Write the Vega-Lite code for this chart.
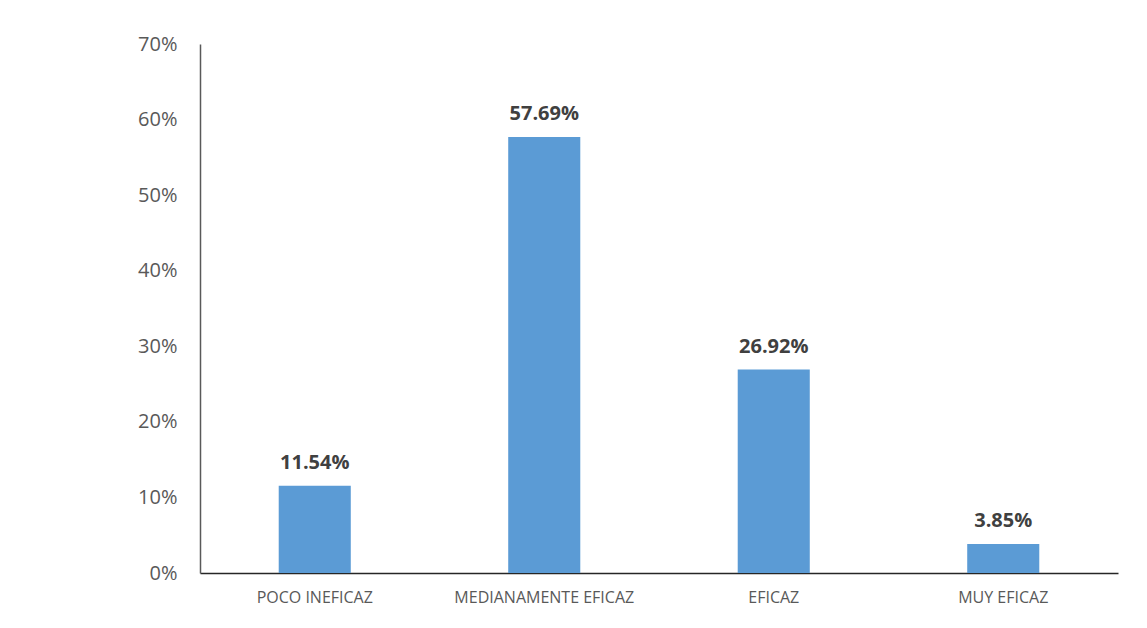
{
  "$schema": "https://vega.github.io/schema/vega-lite/v6.json",
  "autosize": "none",
  "width": 918,
  "height": 529,
  "padding": {"left": 200, "top": 44, "right": 29, "bottom": 55},
  "background": "white",
  "config": {"view": {"stroke": null}, "font": "Open Sans"},
  "data": {"values": [
    {"categoria": "POCO INEFICAZ", "porcentaje": 0.1154},
    {"categoria": "MEDIANAMENTE EFICAZ", "porcentaje": 0.5769},
    {"categoria": "EFICAZ", "porcentaje": 0.2692},
    {"categoria": "MUY EFICAZ", "porcentaje": 0.0385}
  ]},
  "encoding": {
    "x": {"field": "categoria", "type": "nominal", "sort": null,
      "scale": {"paddingInner": 0.686, "paddingOuter": 0.343},
      "axis": {"title": null, "labelAngle": 0, "ticks": false, "domainColor": "#262626", "domainWidth": 1.5,
        "labelLimit": 400, "labelColor": "#595959", "labelFontSize": 16, "labelPadding": 16, "labelFont": "Open Sans"}},
    "y": {"field": "porcentaje", "type": "quantitative",
      "scale": {"domain": [0, 0.7]},
      "axis": {"title": null, "format": ".0%", "values": [0, 0.1, 0.2, 0.3, 0.4, 0.5, 0.6, 0.7],
        "labelOverlap": false, "labelBound": false, "labelFlush": false,
        "grid": false, "ticks": false, "domainColor": "#595959", "domainWidth": 1.5,
        "labelColor": "#595959", "labelFontSize": 20, "labelPadding": 23, "labelFont": "Open Sans"}}
  },
  "layer": [
    {"mark": {"type": "bar", "color": "#5B9BD5"}},
    {"mark": {"type": "text", "baseline": "alphabetic", "dy": -17, "fontSize": 20, "fontWeight": "bold", "color": "#404040", "font": "Open Sans"},
      "encoding": {"text": {"field": "porcentaje", "type": "quantitative", "format": ".2%"}}}
  ]
}
